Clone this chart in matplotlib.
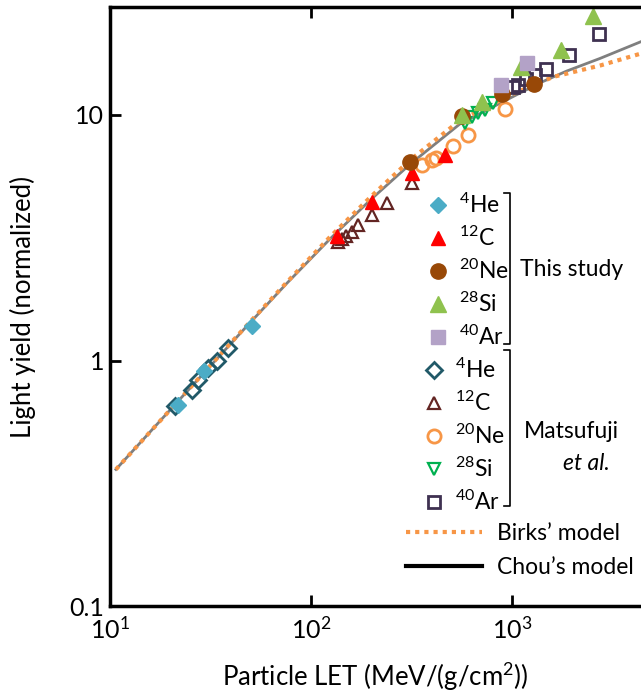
import matplotlib
matplotlib.use('Agg')
import matplotlib.pyplot as plt
from matplotlib.lines import Line2D

plt.rcParams['font.family'] = ['Lato', 'DejaVu Sans']
plt.rcParams['mathtext.fontset'] = 'custom'
plt.rcParams['mathtext.rm'] = 'Lato'
plt.rcParams['mathtext.it'] = 'Lato:italic'
plt.rcParams['mathtext.default'] = 'regular'

# --- data (LET, light yield) ---
# this study
he_x = [21.9, 29.4, 50.7]
he_y = [0.66, 0.91, 1.38]
c_x = [135, 200, 319, 464]
c_y = [3.22, 4.42, 5.82, 6.86]
ne_x = [311, 562, 889, 1291]
ne_y = [6.45, 9.9, 12.2, 13.4]
si_x = [562, 707, 1104, 1754, 2541]
si_y = [10.0, 11.3, 15.7, 18.4, 25.2]
ar_x = [882, 1183]
ar_y = [13.2, 16.3]

# Matsufuji et al.
m_he_x = [21.1, 25.5, 27.5, 30.8, 34.0, 38.8]
m_he_y = [0.65, 0.76, 0.83, 0.93, 1.0, 1.12]
m_c_x = [137, 143, 150, 160, 172, 200, 240, 317]
m_c_y = [3.05, 3.12, 3.22, 3.35, 3.55, 3.9, 4.4, 5.3]
m_ne_x = [355, 398, 421, 510, 606, 922]
m_ne_y = [6.26, 6.56, 6.67, 7.48, 8.28, 10.6]
m_si_x = [584, 630, 679, 734, 807]
m_si_y = [9.25, 9.85, 10.2, 10.5, 11.2]
m_ar_x = [1015, 1074, 1175, 1297, 1476, 1914, 2717]
m_ar_y = [12.97, 13.2, 13.97, 14.55, 15.4, 17.5, 21.4]

# model curves
chou_x = [10.7, 21, 46, 75.7, 124, 197, 311, 551, 1015, 1400, 1871, 2741, 4385]
chou_y = [0.36, 0.66, 1.33, 2.06, 3.12, 4.5, 6.3, 9.2, 11.9, 13.6, 15.1, 17.0, 19.9]
birks_x = [10.7, 21, 46, 75.7, 124, 197, 311, 551, 1015, 1605, 2741, 4385]
birks_y = [0.36, 0.66, 1.34, 2.08, 3.18, 4.62, 6.55, 9.5, 12.2, 14.3, 15.9, 17.8]

W, H = 641, 700
fig = plt.figure(figsize=(W / 100, H / 100), dpi=100)
ax = fig.add_axes([110 / W, 94 / H, 531 / W, 599 / H])


def fx(px):
    return px / W


def fy(py):
    return 1 - py / H


orange = '#F79646'
ax.plot(chou_x, chou_y, color='#7f7f7f', lw=2, zorder=1)
ax.plot(birks_x, birks_y, color=orange, lw=3, ls=(0, (1.0, 1.2)), zorder=1.5)

h_mhe, = ax.plot(m_he_x, m_he_y, 'D', ls='none', mfc='none', mec='#215968', mew=2, ms=8.5)
h_mc, = ax.plot(m_c_x, m_c_y, '^', ls='none', mfc='none', mec='#632523', mew=1.6, ms=9)
h_mne, = ax.plot(m_ne_x, m_ne_y, 'o', ls='none', mfc='none', mec=orange, mew=2, ms=9.5)
h_msi, = ax.plot(m_si_x, m_si_y, 'v', ls='none', mfc='none', mec='#00B050', mew=1.6, ms=9)
h_mar, = ax.plot(m_ar_x, m_ar_y, 's', ls='none', mfc='none', mec='#3F3151', mew=2, ms=8)

h_he, = ax.plot(he_x, he_y, 'D', ls='none', color='#4BACC6', ms=8.5)
h_c, = ax.plot(c_x, c_y, '^', ls='none', color='#FF0000', ms=10)
h_ne, = ax.plot(ne_x, ne_y, 'o', ls='none', color='#984807', ms=11)
h_si, = ax.plot(si_x, si_y, '^', ls='none', color='#8FC24E', ms=11)
h_ar, = ax.plot(ar_x, ar_y, 's', ls='none', color='#B3A2C7', ms=10.5)

ax.set_xscale('log')
ax.set_yscale('log')
ax.set_xlim(10, 10 ** (1 + 531 / 201))
ax.set_ylim(0.1, 10 ** (-1 + 599 / 245.5))
ax.set_xticks([10, 100, 1000])
ax.set_yticks([0.1, 1, 10])
ax.set_yticklabels(['0.1', '1', '10'])
ax.minorticks_off()
ax.tick_params(direction='in', length=8, width=2, labelsize=18, top=True,
               right=False)
ax.tick_params(axis='x', pad=7)
ax.tick_params(axis='y', pad=4)
for s in ['left', 'bottom', 'top']:
    ax.spines[s].set_linewidth(2.5)
ax.spines['right'].set_visible(False)

ax.set_xlabel('Particle LET (MeV/(g/cm$^{2}$))', fontsize=18.5, labelpad=13)
ax.set_ylabel('Light yield (normalized)', fontsize=18.5, labelpad=24)

fs = 16.5
iso = ['$^{4}$He', '$^{12}$C', '$^{20}$Ne', '$^{28}$Si', '$^{40}$Ar']
common = dict(frameon=False, fontsize=fs, borderpad=0, borderaxespad=0,
              handlelength=1.0, handletextpad=0.4, labelspacing=0.38,
              loc='upper left', bbox_transform=fig.transFigure)
leg1 = ax.legend([h_he, h_c, h_ne, h_si, h_ar], iso,
                 bbox_to_anchor=(fx(427), fy(193)), **common)
ax.add_artist(leg1)
leg2 = ax.legend([h_mhe, h_mc, h_mne, h_msi, h_mar], iso,
                 bbox_to_anchor=(fx(423), fy(358)), **common)
ax.add_artist(leg2)

p_birks = Line2D([], [], color=orange, lw=3, ls=(0, (1.0, 1.2)))
p_chou = Line2D([], [], color='black', lw=3)
ax.legend([p_birks, p_chou], ['Birks\u2019 model', 'Chou\u2019s model'],
          frameon=False, fontsize=fs, borderpad=0, borderaxespad=0,
          handlelength=3.3, handletextpad=0.65, labelspacing=0.55,
          loc='upper left', bbox_transform=fig.transFigure,
          bbox_to_anchor=(fx(406), fy(523)))

# brackets and group labels
for top, bot in [(193, 344), (350, 506)]:
    fig.add_artist(Line2D([fx(504), fx(510), fx(510), fx(504)],
                          [fy(top), fy(top), fy(bot), fy(bot)],
                          color='black', lw=1.2))
fig.text(fx(520), fy(269), 'This study', fontsize=fs, va='center', ha='left')
fig.text(fx(524), fy(432), 'Matsufuji', fontsize=fs, va='center', ha='left')
fig.text(fx(563), fy(464), 'et al.', fontsize=fs, va='center', ha='left',
         style='italic')

fig.savefig('out.png', dpi=100)
